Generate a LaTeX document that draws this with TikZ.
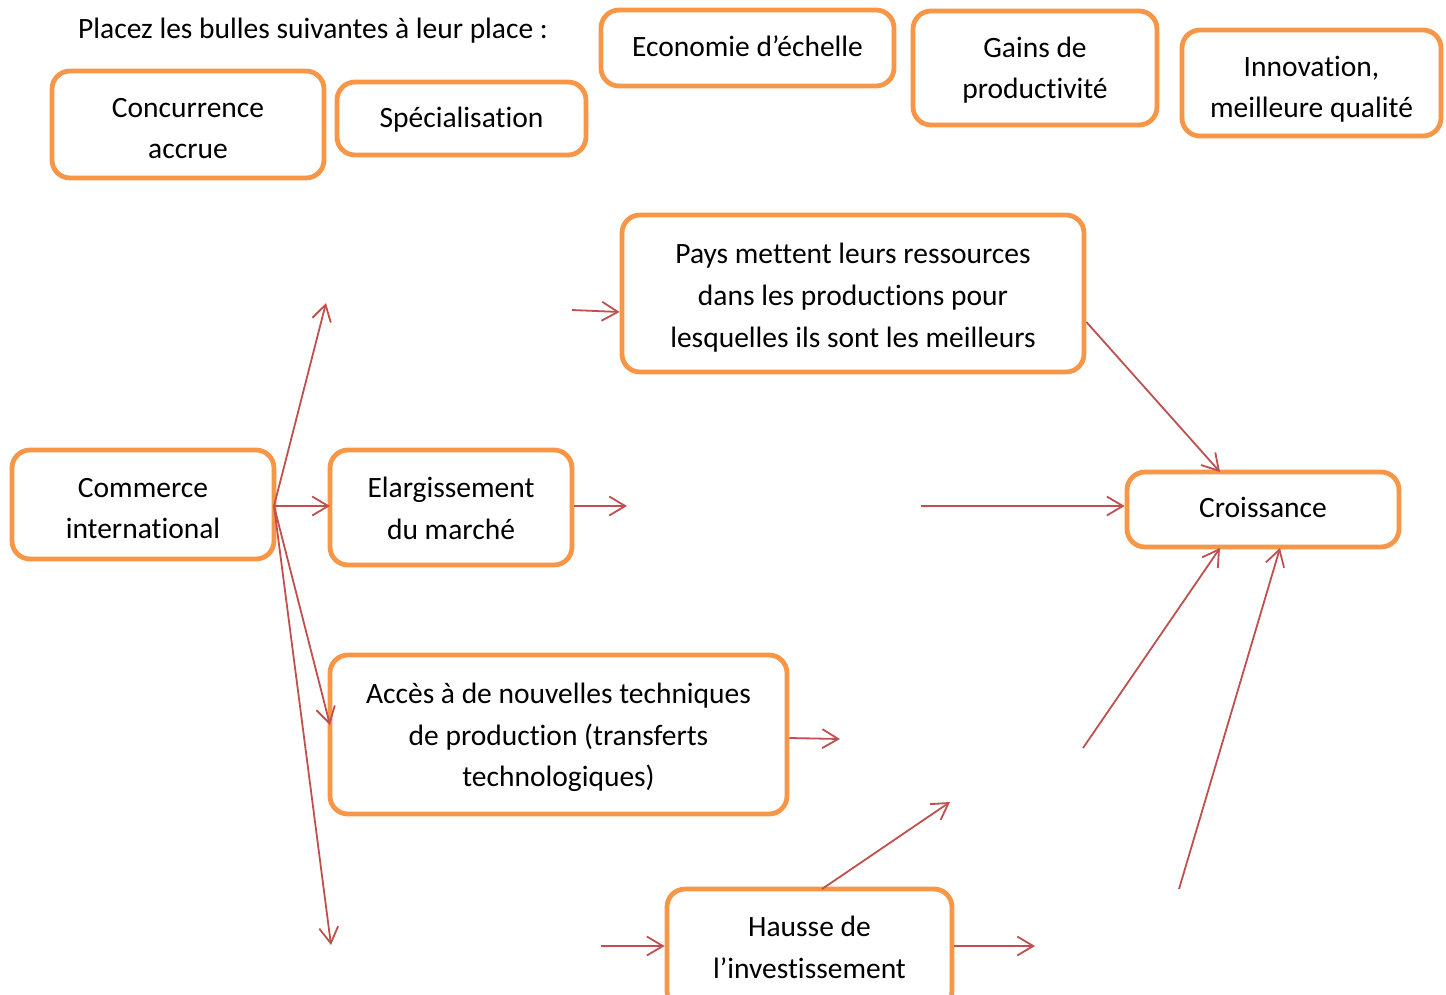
\documentclass[tikz,border=0pt]{standalone}
\usepackage{fontspec}
\setmainfont[Ligatures=NoCommon]{Carlito}
\usetikzlibrary{arrows.meta}
\definecolor{boxorange}{HTML}{F79646}
\definecolor{arrred}{HTML}{C0504D}
\newcommand\btxt[2]{\raisebox{-#1pt}[0pt][0pt]{\begin{tabular}{@{}c@{}}#2\end{tabular}}}
\begin{document}
\begin{tikzpicture}[x=1pt,y=-1pt,
  box/.style={draw=boxorange, line width=4.8pt, rounded corners=18pt, fill=white,
    inner sep=0pt, font=\fontsize{29.5}{41.7}\selectfont},
  conn/.style={draw=arrred, line width=1.8pt, -{Straight Barb[length=16pt,width=19pt,line width=1.8pt]}},
  lbl/.style={inner sep=0pt, font=\fontsize{29.5}{41.7}\selectfont}]
\useasboundingbox (0,0) rectangle (1446,994);
\clip (0,0) rectangle (1446,994);
\node[lbl, anchor=west] (title) at (78,31) {Placez les bulles suivantes à leur place :};
% top bubbles
\node[box, minimum width=272, minimum height=107] (conc) at (188,124.5) {\btxt{11.5}{Concurrence\\accrue}};
\node[box, minimum width=249, minimum height=73] (spec) at (461.5,118.5) {\btxt{6.5}{Spécialisation}};
\node[box, minimum width=293, minimum height=76] (eco) at (747.5,48) {\btxt{6}{Economie d’échelle}};
\node[box, minimum width=244, minimum height=114] (gains) at (1035,68) {\btxt{8}{Gains de\\productivité}};
\node[box, minimum width=259, minimum height=106] (innov) at (1311.5,83) {\btxt{12}{Innovation,\\meilleure qualité}};
% diagram
\node[box, minimum width=462, minimum height=157] (pays) at (853,293.5) {\btxt{10}{Pays mettent leurs ressources\\dans les productions pour\\lesquelles ils sont les meilleurs}};
\node[box, minimum width=262, minimum height=109] (comm) at (143,504.5) {\btxt{11.5}{Commerce\\international}};
\node[box, minimum width=242, minimum height=115] (elarg) at (451,507.5) {\btxt{9}{Elargissement\\du marché}};
\node[box, minimum width=272, minimum height=75] (crois) at (1263,509.5) {\btxt{5.5}{Croissance}};
\node[box, minimum width=457, minimum height=159] (acces) at (558.5,734.5) {\btxt{8.5}{Accès à de nouvelles techniques\\de production (transferts\\technologiques)}};
\node[box, minimum width=285, minimum height=120] (hausse) at (809.5,949) {\btxt{6.5}{Hausse de\\l’investissement}};
% free ends
\coordinate (cUp) at (326,303);
\coordinate (cMid) at (330,506);
\coordinate (cAcc) at (330,725);
\coordinate (cLow) at (331,945);
\coordinate (pIn) at (572,310);
\coordinate (eOut) at (627,506);
\coordinate (cIn) at (921,506);
\coordinate (aOut) at (840,739);
\coordinate (hUp) at (950,802);
\coordinate (hOut) at (1035,946);
\coordinate (hIn) at (601,946);
\coordinate (s1) at (1083,748);
\coordinate (s2) at (1179,889);
\coordinate (commR) at (274,506);
% connectors
\draw[conn] (commR) -- (cUp);
\draw[conn] (commR) -- (cMid);
\draw[conn] (commR) -- (cAcc);
\draw[conn] (commR) -- (cLow);
\draw[conn] (pIn) -- (pays.west |- 0,312);
\draw[conn] (elarg.east |- 0,506) -- (eOut);
\draw[conn] (cIn) -- (crois.west |- 0,506);
\draw[conn] (pays.east |- 0,322) -- (1220,472);
\draw[conn] (acces.east |- 0,738) -- (aOut);
\draw[conn] (822,889) -- (hUp);
\draw[conn] (hausse.east |- 0,946) -- (hOut);
\draw[conn] (hIn) -- (hausse.west |- 0,946);
\draw[conn] (s1) -- (1220,548);
\draw[conn] (s2) -- (1280,548);
\end{tikzpicture}
\end{document}
